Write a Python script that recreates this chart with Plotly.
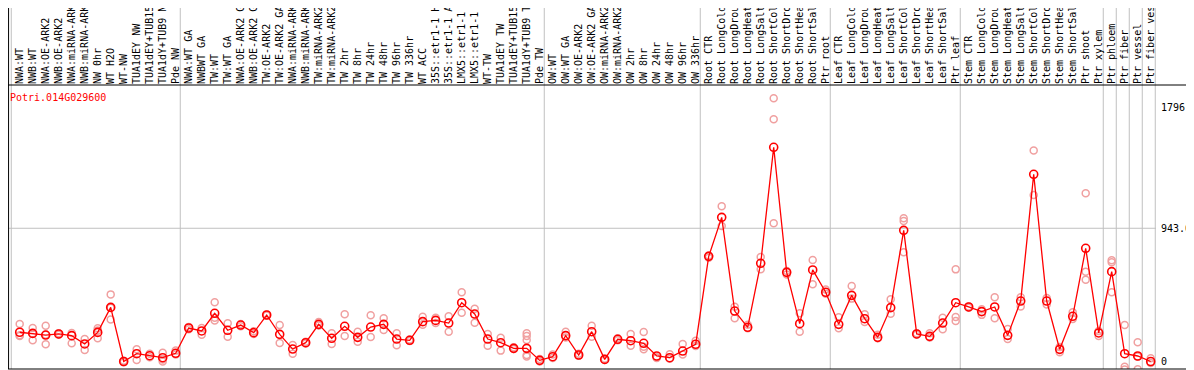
import plotly.graph_objects as go

gene = "Potri.014G029600"

labels = [
    "NWA:WT", "NWB:WT", "NWA:OE-ARK2", "NWB:OE-ARK2", "NWA:miRNA-ARK2", "NWB:miRNA-ARK2",
    "NW 0hr", "WT H2O", "WT-NW", "TUA1dEY NW", "TUA1dEY+TUB15 NW", "TUA1dY+TUB9 NW", "Pde NW",
    "NWA:WT GA", "NWBWT GA", "TW:WT", "TW:WT GA", "NWA:OE-ARK2 GA", "NWB:OE-ARK2 GA",
    "TW:OE-ARK2", "TW:OE-ARK2 GA", "NWA:miRNA-ARK2 GA", "NWB:miRNA-ARK2 GA",
    "TW:miRNA-ARK2 GA", "TW:miRNA-ARK2",
    "TW 2hr", "TW 8hr", "TW 24hr", "TW 48hr", "TW 96hr", "TW 336hr", "WT ACC",
    "35S::etr1-1 H2O", "35S::etr1-1 ACC", "LMX5::etr1-1 H2O", "LMX5::etr1-1 ACC",
    "WT-TW", "TUA1dEY TW", "TUA1dEY+TUB15 TW", "TUA1dY+TUB9 TW", "Pde TW",
    "OW:WT", "OW:WT GA", "OW:OE-ARK2", "OW:OE-ARK2 GA", "OW:miRNA-ARK2", "OW:miRNA-ARK2",
    "OW 2hr", "OW 8hr", "OW 24hr", "OW 48hr", "OW 96hr", "OW 336hr",
    "Root CTR", "Root LongCold", "Root LongDrought", "Root LongHeat", "Root LongSalt",
    "Root ShortCold", "Root ShortDrought", "Root ShortHeat", "Root ShortSalt", "Ptr root",
    "Leaf CTR", "Leaf LongCold", "Leaf LongDrought", "Leaf LongHeat", "Leaf LongSalt",
    "Leaf ShortCold", "Leaf ShortDrought", "Leaf ShortHeat", "Leaf ShortSalt", "Ptr leaf",
    "Stem CTR", "Stem LongCold", "Stem LongDrought", "Stem LongHeat", "Stem LongSalt",
    "Stem ShortCold", "Stem ShortDrought", "Stem ShortHeat", "Stem ShortSalt", "Ptr shoot",
    "Ptr xylem", "Ptr phloem", "Ptr fiber", "Ptr vessel", "Ptr fiber vessel",
]

means = [
    207, 199, 187, 195, 183, 124, 206, 383, 0, 55, 41, 27, 58,
    237, 216, 341, 221, 258, 204, 329, 192, 88, 133, 263, 164,
    249, 171, 244, 263, 159, 150, 282, 291, 272, 416, 336, 159, 133, 93, 93, 8,
    34, 183, 46, 211, 15, 157, 147, 129, 39, 27, 74, 122,
    744, 1020, 357, 242, 695, 1516, 631, 268, 648, 490,
    263, 468, 303, 171, 381, 928, 195, 178, 272, 416,
    386, 353, 386, 185, 428, 1325, 428, 86, 320, 801,
    202, 636, 55, 39, 0,
]

replicates = [
    [265, 180, 185], [237, 150, 199], [253, 122, 190], [200, 190], [201, 129], [159, 81],
    [235, 164, 220], [475, 298, 380], [5, -5], [86, 10], [55, 30], [62, 0, 15], [77, 50],
    [228, 245], [237, 190], [419, 291, 310], [270, 176], [265, 250], [214, 195], [332, 325],
    [258, 131], [117, 55], [140, 128], [280, 255], [200, 124],
    [334, 180], [211, 140], [327, 173], [306, 223], [200, 115], [155, 145], [317, 260],
    [310, 272], [320, 211], [490, 345], [374, 275], [195, 112], [168, 77], [100, 88],
    [200, 180, 152, 46, 36], [18, 0],
    [50, 25], [211, 170], [55, 40], [253, 176], [20, 10], [165, 150], [195, 112],
    [209, 86, 105], [25, 30], [51, 20], [124, 50], [147, 110],
    [735, 750], [1098, 959], [388, 306], [260, 235], [740, 653], [1863, 1714, 978],
    [615, 640], [341, 211], [718, 546], [510, 480],
    [313, 235], [534, 445], [335, 280], [190, 165], [440, 338], [1013, 994, 773],
    [200, 190], [200, 170], [310, 228], [652, 315, 287],
    [390, 380], [370, 330], [454, 306], [230, 160], [454, 390], [1494, 1178], [450, 404],
    [103, 65], [348, 300], [1190, 636, 579],
    [215, 180], [716, 702, 490], [258, -37, -56], [136, -55, 36], [23, -10],
]

group_starts = [0, 13, 41, 53, 63, 73, 84, 85, 86, 87, 88]
y_tick_vals = [0, 943.0, 1796.0]
y_tick_text = ["0", "943.0", "1796."]
grid_y = [943.0]

# the page body adds an 8px offset; figure coordinates are page coordinates minus OFF
OFF = 8
W, H = 1194 - OFF, 370 - OFF
PL, PR, PT, PB = 8 - OFF, 1156 - OFF, 85 - OFF, 369 - OFF
x0_px, step = 19.7 - OFF, 13.0
x_range = [(PL - x0_px) / step, (PR - x0_px) / step]
y_range = [-53.1, 1956.8]

idx = list(range(len(labels)))
rx, ry = [], []
for i, r in enumerate(replicates):
    for v in r:
        rx.append(i)
        ry.append(v)

fig = go.Figure()
fig.add_trace(go.Scatter(
    x=rx, y=ry, mode="markers",
    marker=dict(symbol="circle-open", size=7, color="#f0a0a0", line=dict(width=1.5, color="#f0a0a0")),
    showlegend=False, hoverinfo="skip",
))
fig.add_trace(go.Scatter(
    x=idx, y=means, mode="lines+markers",
    line=dict(color="#ff0000", width=1.3),
    marker=dict(symbol="circle-open", size=8, color="#ff0000", line=dict(width=1.6, color="#ff0000")),
    showlegend=False,
))

plot_w = PR - PL
plot_h = PB - PT
shapes = []
for g in group_starts:
    shapes.append(dict(type="line", xref="x", yref="paper", x0=g - 0.65, x1=g - 0.65,
                       y0=0, y1=(PB + 2) / plot_h, line=dict(color="#c0c0c0", width=1), layer="below"))
for gy in grid_y:
    shapes.append(dict(type="line", xref="paper", yref="y", x0=0, x1=1, y0=gy, y1=gy,
                       line=dict(color="#c0c0c0", width=1), layer="below"))
# frame lines
shapes.append(dict(type="line", xref="paper", yref="paper", x0=0, x1=W / plot_w,
                   y0=1, y1=1, line=dict(color="black", width=1)))
shapes.append(dict(type="line", xref="paper", yref="paper", x0=0, x1=W / plot_w,
                   y0=0, y1=0, line=dict(color="black", width=1)))
shapes.append(dict(type="line", xref="paper", yref="paper", x0=0.0005, x1=0.0005,
                   y0=0, y1=(PB + 2) / plot_h, line=dict(color="black", width=1)))

mono = "DejaVu Sans Mono"
fig.update_layout(
    width=W, height=H,
    margin=dict(l=PL, r=W - PR, t=PT, b=H - PB, pad=0),
    paper_bgcolor="white", plot_bgcolor="white",
    shapes=shapes,
    xaxis=dict(
        side="top", range=x_range, tickmode="array", tickvals=idx, ticktext=labels,
        tickangle=-90, tickfont=dict(family=mono, size=10, color="black"),
        showgrid=False, zeroline=False, showline=False, ticks="", automargin=False,
    ),
    yaxis=dict(
        side="right", range=y_range, tickmode="array", tickvals=y_tick_vals, ticktext=y_tick_text,
        tickfont=dict(family=mono, size=10, color="black"), ticks="outside", ticklen=2,
        tickcolor="rgba(0,0,0,0)", showgrid=False, zeroline=False, showline=False, automargin=False,
    ),
    annotations=[dict(
        text=gene, xref="paper", yref="paper", x=(9.3 - OFF - PL) / plot_w, y=(PB - (97 - OFF)) / plot_h,
        xanchor="left", yanchor="middle", showarrow=False, borderpad=0,
        font=dict(family=mono, size=10, color="#ff0000"),
    )],
)

fig.write_html("out.html")
